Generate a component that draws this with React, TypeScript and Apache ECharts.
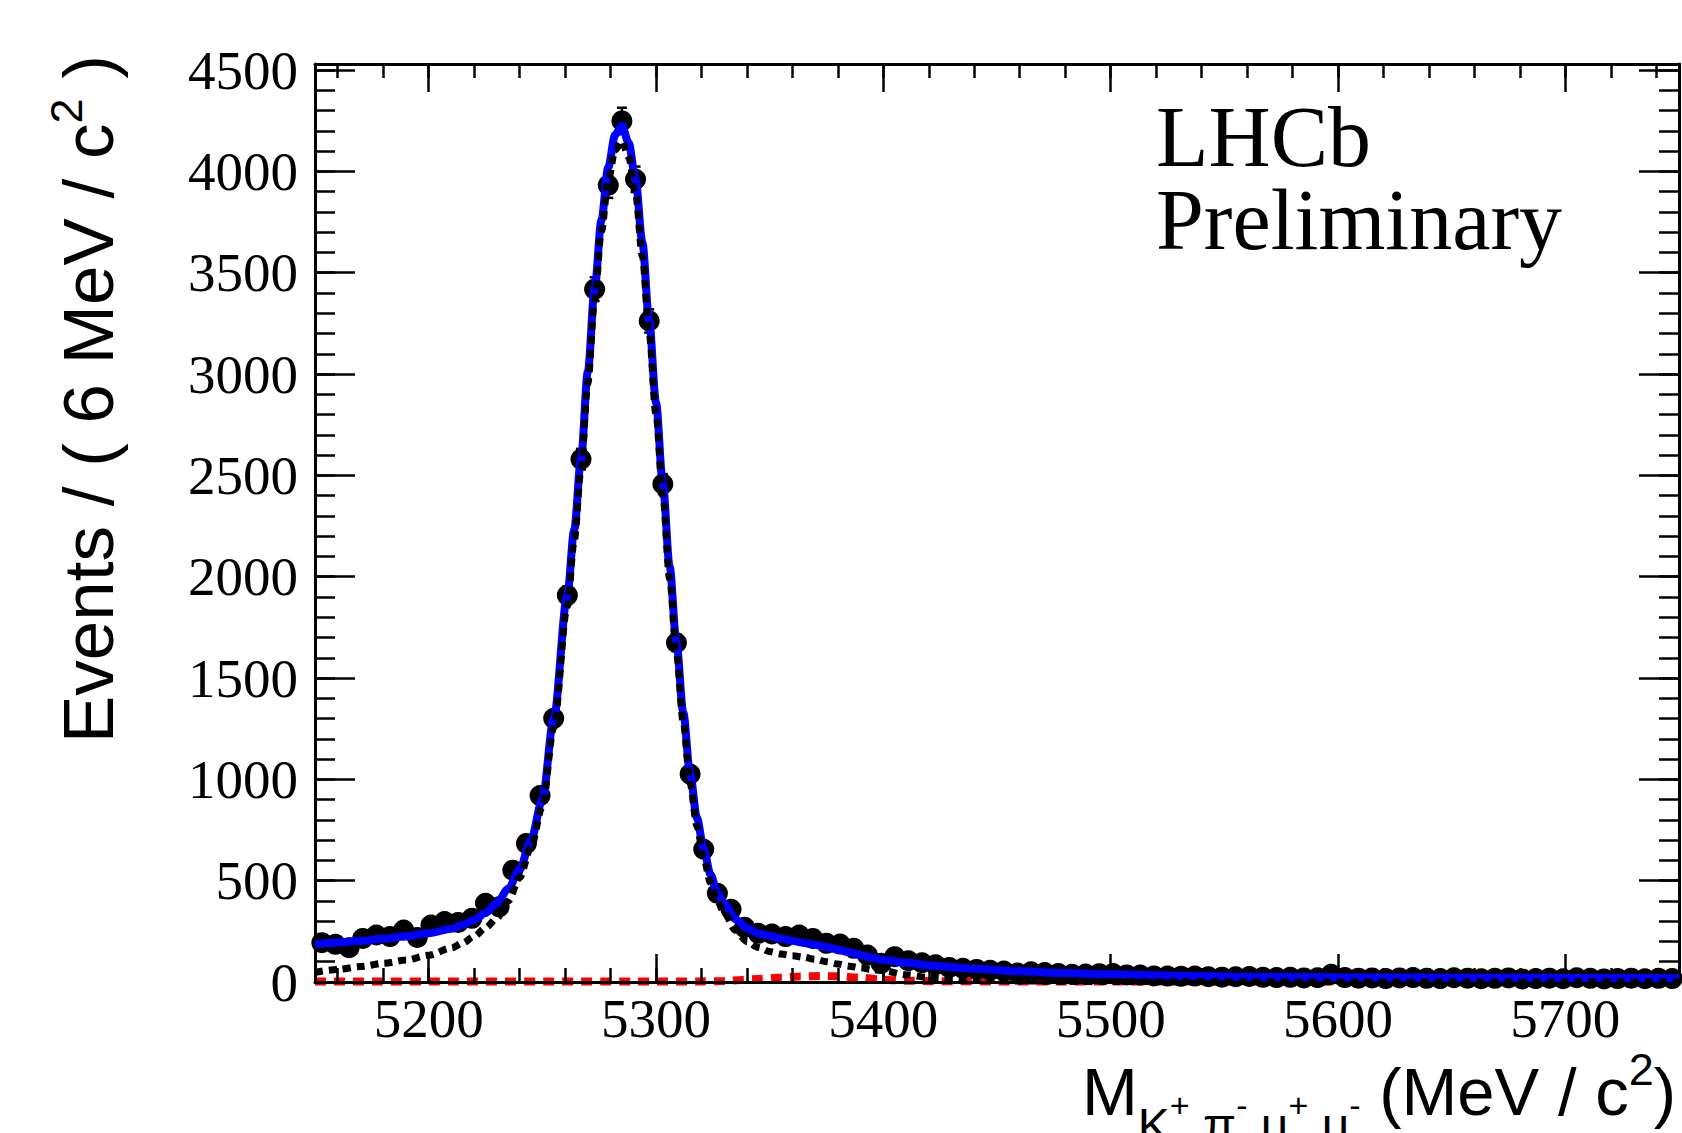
import React, { useEffect, useRef } from "react";
import * as echarts from "echarts";

// ---------------- data ----------------
const binCenters = [
  5153, 5159, 5165, 5171, 5177, 5183, 5189, 5195, 5201, 5207,
  5213, 5219, 5225, 5231, 5237, 5243, 5249, 5255, 5261, 5267,
  5273, 5279, 5285, 5291, 5297, 5303, 5309, 5315, 5321, 5327,
  5333, 5339, 5345, 5351, 5357, 5363, 5369, 5375, 5381, 5387,
  5393, 5399, 5405, 5411, 5417, 5423, 5429, 5435, 5441, 5447,
  5453, 5459, 5465, 5471, 5477, 5483, 5489, 5495, 5501, 5507,
  5513, 5519, 5525, 5531, 5537, 5543, 5549, 5555, 5561, 5567,
  5573, 5579, 5585, 5591, 5597, 5603, 5609, 5615, 5621, 5627,
  5633, 5639, 5645, 5651, 5657, 5663, 5669, 5675, 5681, 5687,
  5693, 5699, 5705, 5711, 5717, 5723, 5729, 5735, 5741, 5747,
];

const eventCounts = [
  194, 186, 169, 215, 232, 224, 256, 220, 281, 298,
  294, 314, 388, 371, 552, 684, 920, 1301, 1909, 2580,
  3419, 3932, 4249, 3961, 3262, 2457, 1674, 1026, 655, 438,
  359, 270, 240, 237, 224, 232, 215, 191, 187, 166,
  133, 92, 125, 105, 95, 85, 72, 68, 62, 58,
  54, 44, 50, 47, 42, 38, 39, 41, 42, 35,
  34, 30, 29, 28, 29, 26, 24, 26, 27, 23,
  22, 23, 20, 21, 38, 22, 19, 20, 17, 20,
  22, 18, 17, 21, 19, 16, 18, 20, 15, 17,
  19, 16, 21, 18, 15, 17, 19, 16, 18, 17,
];

const fitMass = [
  5150, 5160, 5170, 5180, 5190, 5200, 5210, 5215, 5220, 5225,
  5230, 5235, 5240, 5245, 5250, 5255, 5261, 5264, 5267, 5270,
  5273, 5276, 5279, 5282, 5285, 5288, 5291, 5294, 5297, 5300,
  5303, 5306, 5309, 5312, 5315, 5318, 5321, 5324, 5327, 5330,
  5335, 5340, 5345, 5350, 5355, 5360, 5365, 5370, 5375, 5380,
  5385, 5390, 5395, 5400, 5410, 5420, 5440, 5460, 5480, 5500,
  5530, 5560, 5600, 5650, 5700, 5750,
];

const fitTotal = [
  187, 195, 203, 213, 226, 240, 263, 282, 306, 340,
  390, 460, 555, 700, 900, 1300, 1909, 2230, 2580, 3010,
  3420, 3760, 4020, 4180, 4225, 4140, 3960, 3650, 3262, 2860,
  2460, 2050, 1674, 1330, 1026, 810, 655, 530, 440, 385,
  310, 265, 240, 228, 215, 203, 193, 184, 172, 160,
  147, 133, 120, 109, 95, 82, 66, 53, 44, 38,
  31, 26, 23, 21, 20, 19,
];

const fitSignal = [
  48, 62, 76, 92, 108, 132, 168, 192, 225, 268,
  315, 400, 515, 665, 865, 1255, 1855, 2175, 2525, 2955,
  3365, 3705, 3955, 4105, 4150, 4070, 3890, 3580, 3200, 2800,
  2400, 1990, 1620, 1280, 980, 770, 610, 490, 400, 340,
  255, 200, 170, 150, 138, 130, 122, 112, 100, 89,
  78, 70, 62, 55, 36, 22, 10, 5, 3, 2,
  1, 1, 0, 0, 0, 0,
];

const bkgMass = [5150, 5300, 5320, 5330, 5338, 5345, 5355, 5363, 5372, 5380, 5389, 5399, 5410, 5425, 5450, 5500, 5750];
const bkgPeaking = [3, 3, 3, 5, 10, 15, 22, 27, 30, 28, 22, 12, 6, 4, 3, 3, 3];

const xMin = 5150;
const xMax = 5750;
const yMin = 0;
const yMax = 4530;

// ---------------- styling ----------------
const SERIF = "'Liberation Serif', 'Times New Roman', serif";
const SANS = "'Liberation Sans', Arial, Helvetica, sans-serif";

let measureCtx: CanvasRenderingContext2D | null = null;
function textWidth(text: string, size: number, family: string): number {
  if (!measureCtx) {
    const c = document.createElement("canvas");
    measureCtx = c.getContext("2d");
  }
  if (!measureCtx) return text.length * size * 0.55;
  measureCtx.font = `${size}px ${family}`;
  return measureCtx.measureText(text).width;
}

function txt(text: string, x: number, y: number, size: number, family: string, lineHeight?: number) {
  const style: any = {
    text,
    fill: "#000",
    fontSize: size,
    fontFamily: family,
    align: "left",
    verticalAlign: "middle",
    textAlign: "left",
    textVerticalAlign: "middle",
  };
  if (lineHeight) style.lineHeight = lineHeight;
  return { type: "text", x, y, silent: true, style };
}

function buildXTitle() {
  const pieces = [
    { t: "M", s: 67, y: 1091, gap: 0 },
    { t: "K", s: 48, y: 1125, gap: 0 },
    { t: "+", s: 34, y: 1105, gap: 0 },
    { t: "π", s: 48, y: 1125, gap: 48 },
    { t: "-", s: 34, y: 1105, gap: 0 },
    { t: "μ", s: 48, y: 1125, gap: 48 },
    { t: "+", s: 34, y: 1105, gap: 0 },
    { t: "μ", s: 48, y: 1125, gap: 48 },
    { t: "-", s: 34, y: 1105, gap: 0 },
    { t: "(MeV / c", s: 67, y: 1091, gap: 67 },
    { t: "2", s: 45, y: 1069, gap: 0 },
    { t: ")", s: 67, y: 1091, gap: 0 },
  ];
  let x = 1082;
  const els: any[] = [];
  for (const p of pieces) {
    if (p.gap) x += textWidth(" ", p.gap, SANS);
    els.push(txt(p.t, x, p.y, p.s, SANS));
    x += textWidth(p.t, p.s, SANS);
  }
  return els;
}

function buildYTitle() {
  const main = "Events / ( 6 MeV / c";
  const size = 71;
  const w1 = textWidth(main, size, SANS);
  const w2 = textWidth("2", 45, SANS);
  const sp = textWidth(" ", size, SANS);
  return {
    type: "group",
    x: 88,
    y: 743,
    rotation: Math.PI / 2,
    children: [
      txt(main, 0, 0, size, SANS),
      txt("2", w1, -22, 45, SANS),
      txt(")", w1 + w2 + sp, 0, size, SANS),
    ],
  };
}

export default function App() {
  const ref = useRef<HTMLDivElement>(null);

  useEffect(() => {
    document.body.style.margin = "0";
    if (!ref.current) return;
    const chart = echarts.init(ref.current, null, { renderer: "svg" });

    const lineStyleAxis = { color: "#000", width: 3 };
    const tickStyle = { color: "#000", width: 2.5 };

    const xBase = {
      type: "value",
      min: xMin,
      max: xMax,
      splitLine: { show: false },
      axisLine: { show: false, onZero: false },
      axisLabel: { show: false },
    };
    const yBase = {
      type: "value",
      min: yMin,
      max: yMax,
      splitLine: { show: false },
      axisLine: { show: false, onZero: false },
      axisLabel: { show: false },
    };

    const points = binCenters.map((m, i) => [m, eventCounts[i], Math.sqrt(eventCounts[i])]);

    const option: any = {
      animation: false,
      backgroundColor: "#fff",
      grid: { left: 315, right: 2, top: 64, bottom: 151, containLabel: false },
      xAxis: [
        {
          ...xBase,
          position: "bottom",
          splitNumber: 6,
          axisLine: { show: true, onZero: false, lineStyle: lineStyleAxis },
          axisTick: { show: true, inside: true, length: 28, lineStyle: tickStyle },
          axisLabel: {
            show: true,
            margin: 9,
            color: "#000",
            fontFamily: SERIF,
            fontSize: 55,
            formatter: (v: number) => (v % 100 === 0 && v > xMin && v < xMax ? String(v) : ""),
          },
          z: 0,
        },
        {
          ...xBase,
          position: "bottom",
          splitNumber: 30,
          axisTick: { show: true, inside: true, length: 14, lineStyle: tickStyle },
        },
        {
          ...xBase,
          position: "top",
          splitNumber: 6,
          axisLine: { show: true, onZero: false, lineStyle: lineStyleAxis },
          axisTick: { show: true, inside: true, length: 28, lineStyle: tickStyle },
        },
        {
          ...xBase,
          position: "top",
          splitNumber: 30,
          axisTick: { show: true, inside: true, length: 14, lineStyle: tickStyle },
        },
      ],
      yAxis: [
        {
          ...yBase,
          position: "left",
          interval: 500,
          axisLine: { show: true, onZero: false, lineStyle: lineStyleAxis },
          axisTick: { show: true, inside: true, length: 40, lineStyle: tickStyle },
          axisLabel: {
            show: true,
            margin: 17,
            color: "#000",
            fontFamily: SERIF,
            fontSize: 55,
            formatter: (v: number) => (v % 500 === 0 ? String(v) : ""),
          },
        },
        {
          ...yBase,
          position: "left",
          interval: 100,
          axisTick: { show: true, inside: true, length: 20, lineStyle: tickStyle },
        },
        {
          ...yBase,
          position: "right",
          interval: 500,
          axisLine: { show: true, onZero: false, lineStyle: lineStyleAxis },
          axisTick: { show: true, inside: true, length: 40, lineStyle: tickStyle },
        },
        {
          ...yBase,
          position: "right",
          interval: 100,
          axisTick: { show: true, inside: true, length: 20, lineStyle: tickStyle },
        },
      ],
      series: [
        {
          type: "line",
          name: "peaking background",
          xAxisIndex: 0,
          yAxisIndex: 0,
          data: bkgMass.map((m, i) => [m, bkgPeaking[i]]),
          symbol: "none",
          smooth: 0.3,
          smoothMonotone: "x",
          lineStyle: { color: "#ff0000", width: 8, type: [11, 8] },
          z: -1,
          silent: true,
        },
        {
          type: "custom",
          name: "data",
          xAxisIndex: 0,
          yAxisIndex: 0,
          data: points,
          clip: false,
          z: 2,
          silent: true,
          renderItem: (_params: any, api: any) => {
            const x = api.value(0);
            const y = api.value(1);
            const e = api.value(2);
            const c = api.coord([x, y]);
            const t = api.coord([x, y + e]);
            const b = api.coord([x, y - e]);
            const st = { stroke: "#000", lineWidth: 2.5 };
            return {
              type: "group",
              children: [
                { type: "line", shape: { x1: c[0], y1: t[1], x2: c[0], y2: b[1] }, style: st },
                { type: "line", shape: { x1: c[0] - 5, y1: t[1], x2: c[0] + 5, y2: t[1] }, style: st },
                { type: "line", shape: { x1: c[0] - 5, y1: b[1], x2: c[0] + 5, y2: b[1] }, style: st },
                { type: "circle", shape: { cx: c[0], cy: c[1], r: 10.5 }, style: { fill: "#000" } },
              ],
            };
          },
        },
        {
          type: "line",
          name: "total fit",
          xAxisIndex: 0,
          yAxisIndex: 0,
          data: fitMass.map((m, i) => [m, fitTotal[i]]),
          symbol: "none",
          smooth: 0.3,
          smoothMonotone: "x",
          lineStyle: { color: "#0000ff", width: 8 },
          z: 3,
          silent: true,
        },
        {
          type: "line",
          name: "signal",
          xAxisIndex: 0,
          yAxisIndex: 0,
          data: fitMass.map((m, i) => [m, fitSignal[i]]),
          symbol: "none",
          smooth: 0.3,
          smoothMonotone: "x",
          lineStyle: { color: "#000", width: 7, type: [8, 6] },
          z: 4,
          silent: true,
        },
      ],
      graphic: [
        txt("LHCb\nPreliminary", 1156, 178.5, 86, SERIF, 83),
        buildYTitle(),
        ...buildXTitle(),
      ],
    };

    chart.setOption(option);
    return () => chart.dispose();
  }, []);

  return <div ref={ref} style={{ width: 1682, height: 1133, overflow: "hidden" }} />;
}
